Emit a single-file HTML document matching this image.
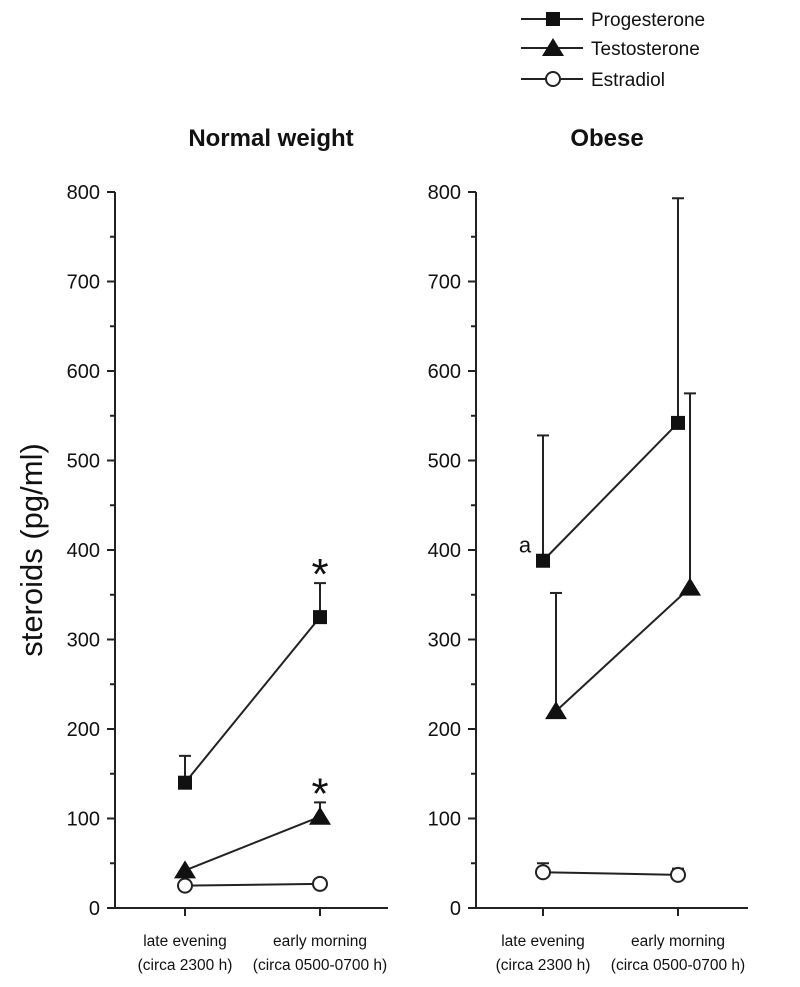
<!DOCTYPE html>
<html><head><meta charset="utf-8"><style>
body{margin:0;background:#fff;}
svg{display:block;font-family:"Liberation Sans",Arial,sans-serif;}
</style></head><body>
<svg id="chart" width="800" height="987" xmlns="http://www.w3.org/2000/svg"></svg>
<script>
const categories = ["late evening|(circa 2300 h)", "early morning|(circa 0500-0700 h)"];
const panels = ["Normal weight", "Obese"];
const yTicks = [0,100,200,300,400,500,600,700,800];
const progNormal = [140, 325];
const progNormalErr = [170, 363];
const testNormal = [42, 102];
const testNormalErr = [42, 118];
const estNormal = [25, 27];
const estNormalErr = [25, 27];
const progObese = [388, 542];
const progObeseErr = [528, 793];
const testObese = [220, 358];
const testObeseErr = [352, 575];
const estObese = [40, 37];
const estObeseErr = [50, 44];

const NS="http://www.w3.org/2000/svg";
const svg=document.getElementById('chart');
function el(tag,attrs,parent){const e=document.createElementNS(NS,tag);for(const k in attrs)e.setAttribute(k,attrs[k]);(parent||svg).appendChild(e);return e;}
function yScale(v){return 908 - v*(716/800);}

const panelDefs=[
 {ax:115,cx:[185,320],tOff:[0,0],x1:110,x2:388,title:panels[0],prog:progNormal,progE:progNormalErr,test:testNormal,testE:testNormalErr,est:estNormal,estE:estNormalErr,stars:true},
 {ax:476,cx:[543,678],tOff:[13,12],x1:470,x2:748,title:panels[1],prog:progObese,progE:progObeseErr,test:testObese,testE:testObeseErr,est:estObese,estE:estObeseErr,stars:false}
];
panelDefs.forEach((p,pi)=>{
 const g=el('g',{});
 
 
 const t=el('text',{x:(pi===0?271:607),y:146,'text-anchor':'middle','font-size':24,'font-weight':'bold',fill:'#111'},g);
 t.textContent=p.title;
 
 
 el('line',{x1:p.ax,y1:yScale(0),x2:p.ax,y2:yScale(800),stroke:'#222','stroke-width':2},g);
 el('line',{x1:p.x1,y1:yScale(0),x2:p.x2,y2:yScale(0),stroke:'#222','stroke-width':2},g);
 for(let v=0;v<=800;v+=50){
  const major=v%100===0;
  el('line',{x1:p.ax-(major?8:5),y1:yScale(v),x2:p.ax,y2:yScale(v),stroke:'#222','stroke-width':2},g);
 }
 yTicks.forEach(v=>{
  const tl=el('text',{x:p.ax-15,y:yScale(v)+7,'text-anchor':'end','font-size':20,fill:'#111'},g);
  tl.textContent=v;
  
  
 });
 categories.forEach((c,i)=>{
  el('line',{x1:p.cx[i],y1:yScale(0),x2:p.cx[i],y2:yScale(0)+8,stroke:'#222','stroke-width':2},g);
  const parts=c.split('|');
  parts.forEach((s,j)=>{
   const tl=el('text',{x:p.cx[i],y:946+j*24,'text-anchor':'middle','font-size':15.5,fill:'#111'},g);
   tl.textContent=s;
   
   
  });
 });
 function errBar(x,v,e){ if(e<=v) return; el('line',{x1:x,y1:yScale(v),x2:x,y2:yScale(e),stroke:'#222','stroke-width':2},g); el('line',{x1:x-6,y1:yScale(e),x2:x+6,y2:yScale(e),stroke:'#222','stroke-width':2},g);}
 const ex=p.cx;
 p.est.forEach((v,i)=>errBar(ex[i],v,p.estE[i]));
 el('line',{x1:ex[0],y1:yScale(p.est[0]),x2:ex[1],y2:yScale(p.est[1]),stroke:'#222','stroke-width':2},g);
 p.est.forEach((v,i)=>{const c=el('circle',{cx:ex[i],cy:yScale(v),r:7,fill:'#fff',stroke:'#222','stroke-width':2},g);
  });
 const tx=[p.cx[0]+p.tOff[0],p.cx[1]+p.tOff[1]];
 p.test.forEach((v,i)=>errBar(tx[i],v,p.testE[i]));
 el('line',{x1:tx[0],y1:yScale(p.test[0]),x2:tx[1],y2:yScale(p.test[1]),stroke:'#222','stroke-width':2},g);
 p.test.forEach((v,i)=>{const y=yScale(v);const c=el('polygon',{points:`${tx[i]-11},${y+8} ${tx[i]+11},${y+8} ${tx[i]},${y-10}`,fill:'#111'},g);
  });
 p.prog.forEach((v,i)=>errBar(p.cx[i],v,p.progE[i]));
 el('line',{x1:p.cx[0],y1:yScale(p.prog[0]),x2:p.cx[1],y2:yScale(p.prog[1]),stroke:'#222','stroke-width':2},g);
 p.prog.forEach((v,i)=>{const c=el('rect',{x:p.cx[i]-7,y:yScale(v)-7,width:14,height:14,fill:'#111'},g);
  });
 if(p.stars){
  [[p.cx[1],yScale(p.progE[1])],[p.cx[1],yScale(p.testE[1])]].forEach(([x,y])=>{
   const s=el('text',{x:x,y:y+6,'text-anchor':'middle','font-size':44,fill:'#111'},g);s.textContent='*';
   });
 } else {
  const a=el('text',{x:p.cx[0]-18,y:yScale(p.prog[0])-8,'text-anchor':'middle','font-size':22,fill:'#111'},g);a.textContent='a';
  
 }
});
const yt=el('text',{x:0,y:0,'text-anchor':'middle','font-size':31,fill:'#111',transform:'translate(42,550) rotate(-90)'});
yt.textContent='steroids (pg/ml)';


const lg=el('g',{});


[['Progesterone',19],['Testosterone',48],['Estradiol',79]].forEach(([name,y],i)=>{
 const e=el('g',{},lg);
 
 
 el('line',{x1:521,y1:y,x2:583,y2:y,stroke:'#222','stroke-width':2},e);
 if(i===0) el('rect',{x:546,y:y-7,width:14,height:14,fill:'#111'},e);
 if(i===1) el('polygon',{points:`542,${y+8} 564,${y+8} 553,${y-10}`,fill:'#111'},e);
 if(i===2) el('circle',{cx:553,cy:y,r:7,fill:'#fff',stroke:'#222','stroke-width':2},e);
 const t=el('text',{x:591,y:y+7,'font-size':19,fill:'#111'},e);t.textContent=name;
});
</script>
</body></html>
